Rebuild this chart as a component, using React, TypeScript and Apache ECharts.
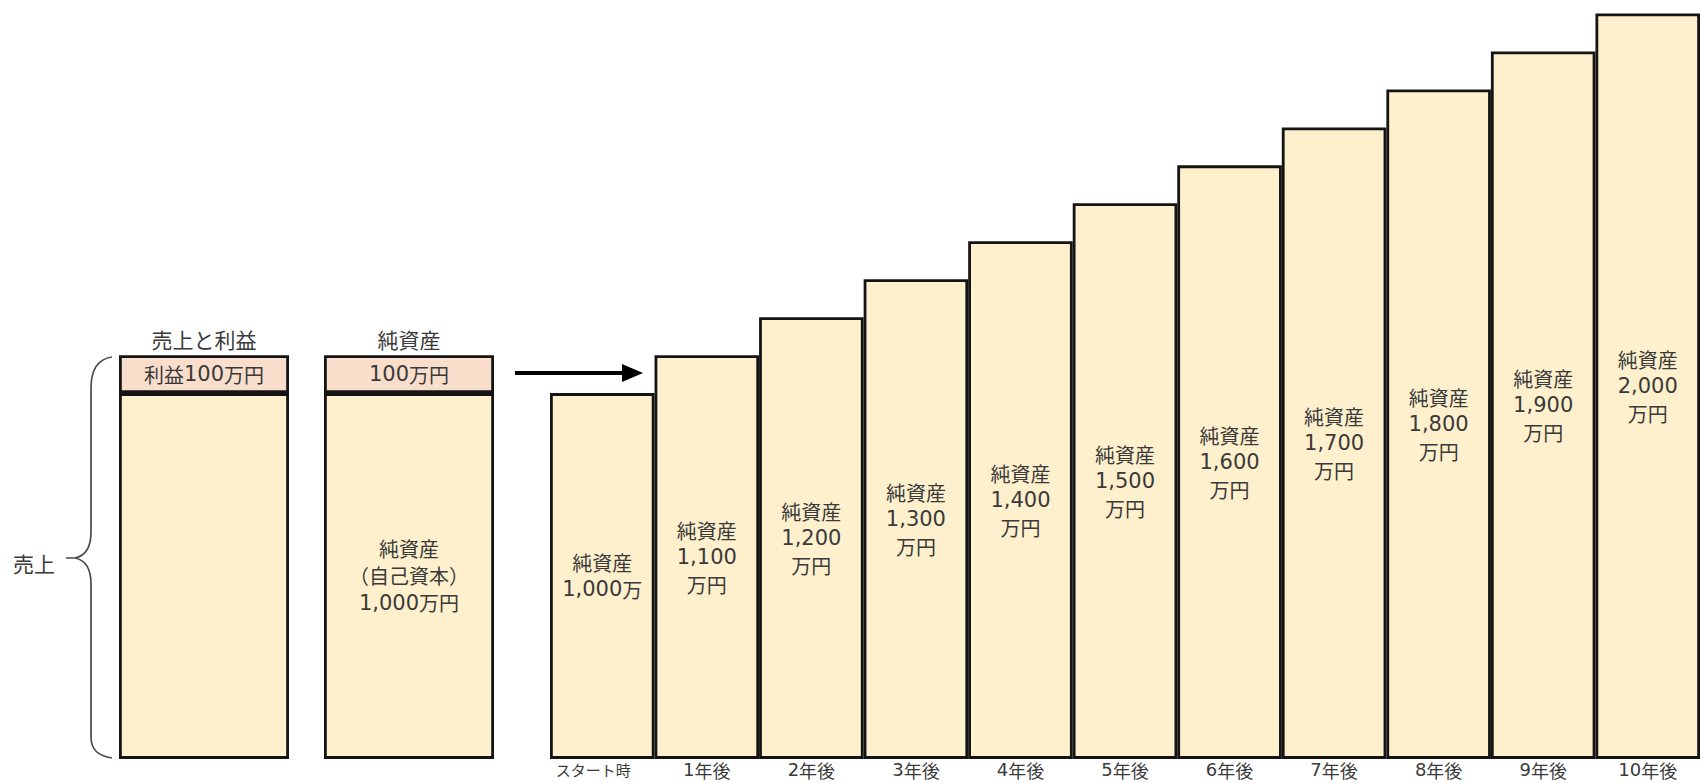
import { useEffect, useRef } from 'react';
import * as echarts from 'echarts';

// ---- data ----
const categories = ['スタート時', '1年後', '2年後', '3年後', '4年後', '5年後', '6年後', '7年後', '8年後', '9年後', '10年後'];
const netAssets = [1000, 1100, 1200, 1300, 1400, 1500, 1600, 1700, 1800, 1900, 2000];
const barLabels = [
  '純資産\n1,000万',
  '純資産\n1,100\n万円',
  '純資産\n1,200\n万円',
  '純資産\n1,300\n万円',
  '純資産\n1,400\n万円',
  '純資産\n1,500\n万円',
  '純資産\n1,600\n万円',
  '純資産\n1,700\n万円',
  '純資産\n1,800\n万円',
  '純資産\n1,900\n万円',
  '純資産\n2,000\n万円',
];

const leftCategories = ['売上と利益', '純資産'];
const leftBase = [1000, 1000];
const leftTop = [100, 100];
const leftBaseLabels = ['', '純資産\n（自己資本）\n1,000万円'];
const leftTopLabels = ['利益100万円', '100万円'];
const salesLabel = '売上';

const yMin = 40;
const yMax = 2000;

// ---- styles ----
const FONT = 'Noto Sans CJK JP';
const NUM_FONT = 'DejaVu Sans';
const CREAM = '#FEF0CD';
const PINK = '#F9DECC';
const BORDER = '#141414';
const TEXT = '#3a3a3a';

const wrapDigits = (s: string) => s.replace(/[\d,]+/g, (m) => `{n|${m}}`);

const braceD =
  'M112,357 C98,359 91,370 91,388 L91,532 C91,548 85,556 75,558 L66,558 M75,558 C85,560 91,568 91,584 L91,737 C91,750 98,756 112,758';
echarts.graphic.registerShape('brace', echarts.graphic.extendPath(braceD, {}));

const innerLabel = (texts: string[]) => ({
  show: true,
  position: 'inside',
  formatter: (p: any) => wrapDigits(texts[p.dataIndex]),
  fontSize: 20,
  lineHeight: 27,
  color: TEXT,
  fontFamily: FONT,
  rich: {
    n: { fontSize: 21, lineHeight: 27, fontFamily: NUM_FONT, color: TEXT },
  },
});

export default function App() {
  const ref = useRef<HTMLDivElement>(null);

  useEffect(() => {
    const chart = echarts.init(ref.current!, null, { renderer: 'svg' });
    const gridTop = 13.5;
    const gridHeight = 744;
    const option: any = {
      animation: false,
      backgroundColor: '#ffffff',
      textStyle: { fontFamily: FONT },
      grid: [
        { left: 101.5, width: 410, top: gridTop, height: gridHeight },
        { left: 550, width: 1156, top: gridTop, height: gridHeight },
      ],
      xAxis: [
        { type: 'category', gridIndex: 0, data: leftCategories, show: false },
        {
          type: 'category',
          gridIndex: 1,
          data: categories,
          axisLine: { show: false },
          axisTick: { show: false },
          axisLabel: {
            interval: 0,
            margin: 3,
            fontSize: 18,
            lineHeight: 18,
            color: TEXT,
            fontFamily: FONT,
            formatter: (v: string) => (v === 'スタート時' ? `{s|${v}}` : wrapDigits(v)),
            rich: {
              s: { fontSize: 15, lineHeight: 18, color: TEXT, fontFamily: FONT, padding: [0, 18, 0, 0] },
              n: { fontSize: 18, lineHeight: 18, color: TEXT, fontFamily: NUM_FONT },
            },
          },
        },
      ],
      yAxis: [
        { type: 'value', gridIndex: 0, min: yMin, max: yMax, show: false },
        { type: 'value', gridIndex: 1, min: yMin, max: yMax, show: false },
      ],
      series: [
        {
          type: 'bar',
          xAxisIndex: 0,
          yAxisIndex: 0,
          stack: 'L',
          barWidth: 170,
          data: leftBase,
          itemStyle: { color: CREAM, borderColor: BORDER, borderWidth: 2.8 },
          label: innerLabel(leftBaseLabels),
        },
        {
          type: 'bar',
          xAxisIndex: 0,
          yAxisIndex: 0,
          stack: 'L',
          barWidth: 170,
          data: leftTop,
          itemStyle: { color: PINK, borderColor: BORDER, borderWidth: 2.8 },
          label: innerLabel(leftTopLabels),
        },
        {
          type: 'bar',
          xAxisIndex: 0,
          yAxisIndex: 0,
          stack: 'L',
          barWidth: 170,
          data: [0, 0],
          itemStyle: { color: 'transparent', borderWidth: 0 },
          label: {
            show: true,
            position: 'top',
            distance: 5,
            formatter: '{b}',
            fontSize: 21,
            lineHeight: 22,
            color: TEXT,
            fontFamily: FONT,
          },
        },
        {
          type: 'bar',
          xAxisIndex: 1,
          yAxisIndex: 1,
          barCategoryGap: '0%',
          data: netAssets,
          itemStyle: { color: CREAM, borderColor: BORDER, borderWidth: 2.8 },
          label: innerLabel(barLabels),
        },
      ],
      graphic: [
        {
          type: 'brace',
          x: 0,
          y: 0,
          style: { stroke: '#4a4a4a', lineWidth: 1.7, fill: 'none' },
        },
        {
          type: 'text',
          x: 13,
          y: 563,
          style: {
            text: salesLabel,
            fontSize: 21,
            fontFamily: FONT,
            fill: TEXT,
            verticalAlign: 'middle',
          },
        },
        {
          type: 'line',
          shape: { x1: 515, y1: 373, x2: 628, y2: 373 },
          style: { stroke: '#000', lineWidth: 4 },
        },
        {
          type: 'polygon',
          shape: { points: [[622, 364], [643, 373], [622, 382]] },
          style: { fill: '#000' },
        },
      ],
    };
    chart.setOption(option);
    return () => chart.dispose();
  }, []);

  return (
    <div
      ref={ref}
      style={{ position: 'absolute', left: 0, top: 0, width: 1700, height: 783, background: '#fff' }}
    />
  );
}
